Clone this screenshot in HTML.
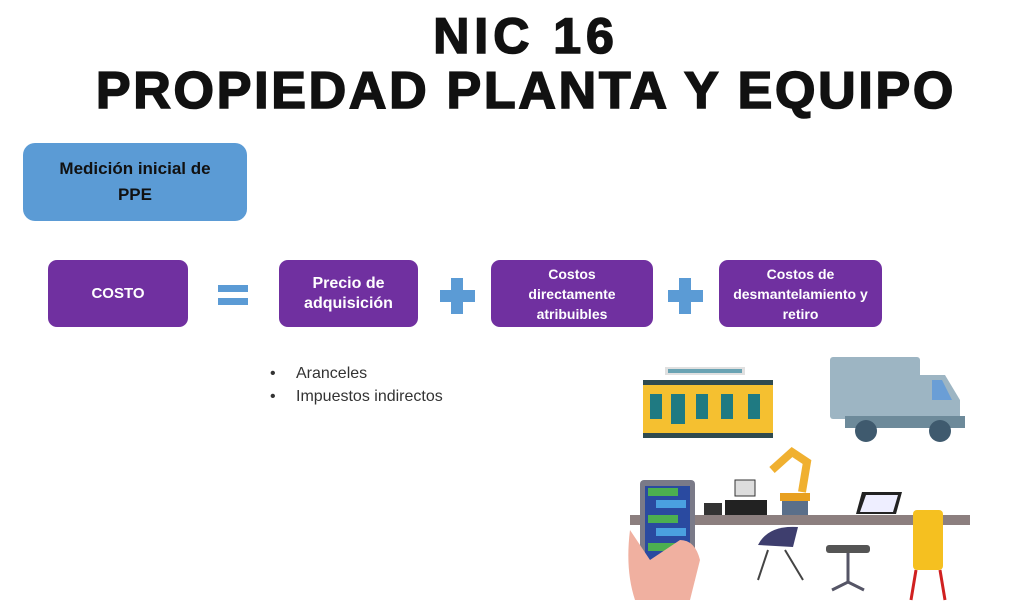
<!DOCTYPE html>
<html><head><meta charset="utf-8"><style>
body{margin:0;width:1024px;height:609px;background:#fff;position:relative;overflow:hidden;font-family:"Liberation Sans",sans-serif}
.t{position:absolute;left:0;width:1052px;text-align:center;font-weight:900;color:#111;-webkit-text-stroke:1.6px #111}
.b{position:absolute;display:flex;align-items:center;justify-content:center;text-align:center;color:#fff;font-weight:bold;border-radius:9px;background:#7030a0;font-size:15px;line-height:20px}
.li{position:absolute;left:270px;font-size:16px;color:#333}
.li span{position:absolute;left:26px;white-space:nowrap}
</style></head><body>
<div class="t" style="top:10px;font-size:50px;line-height:52px;letter-spacing:5px">NIC 16</div>
<div class="t" style="top:64px;font-size:52px;line-height:54px;letter-spacing:2.7px">PROPIEDAD PLANTA Y EQUIPO</div>
<div class="b" style="left:23px;top:143px;width:224px;height:78px;background:#5b9bd5;color:#111;font-size:17px;line-height:26px;border-radius:12px">Medición inicial de<br>PPE</div>
<div class="b" style="left:48px;top:260px;width:140px;height:67px">COSTO</div>
<div style="position:absolute;left:218px;top:285px;width:30px;height:7px;background:#5b9bd5"></div>
<div style="position:absolute;left:218px;top:298px;width:30px;height:7px;background:#5b9bd5"></div>
<div class="b" style="left:279px;top:260px;width:139px;height:67px;font-size:16px">Precio de<br>adquisición</div>
<div style="position:absolute;left:440px;top:290px;width:35px;height:12px;background:#5b9bd5"></div>
<div style="position:absolute;left:451px;top:278px;width:12px;height:36px;background:#5b9bd5"></div>
<div class="b" style="left:491px;top:260px;width:162px;height:67px;font-size:14px">Costos<br>directamente<br>atribuibles</div>
<div style="position:absolute;left:668px;top:290px;width:35px;height:12px;background:#5b9bd5"></div>
<div style="position:absolute;left:679px;top:278px;width:12px;height:36px;background:#5b9bd5"></div>
<div class="b" style="left:719px;top:260px;width:163px;height:67px;font-size:14px">Costos de<br>desmantelamiento y<br>retiro</div>
<div class="li" style="top:365px">•<span>Aranceles</span></div>
<div class="li" style="top:388px">•<span>Impuestos indirectos</span></div>
<svg style="position:absolute;left:0;top:0" width="1024" height="609">
<rect x="665" y="367" width="80" height="8" fill="#e0e0e0"/><rect x="668" y="369" width="74" height="4" fill="#6aa3b3"/>
<rect x="643" y="380" width="130" height="5" fill="#2f4a4f"/>
<rect x="643" y="385" width="130" height="48" fill="#f5c030"/>
<g fill="#1f7a82"><rect x="650" y="394" width="12" height="25"/><rect x="671" y="394" width="14" height="30"/><rect x="696" y="394" width="12" height="25"/><rect x="721" y="394" width="12" height="25"/><rect x="748" y="394" width="12" height="25"/></g>
<rect x="643" y="433" width="130" height="5" fill="#2f4a4f"/>
<rect x="830" y="357" width="90" height="62" rx="3" fill="#9db5c3"/>
<path d="M920 375h25l15 25v20h-40z" fill="#9db5c3"/><path d="M932 380h10l10 20h-20z" fill="#6a9ed6"/>
<rect x="845" y="416" width="120" height="12" fill="#6d8a9a"/>
<circle cx="866" cy="431" r="11" fill="#3f5a6e"/><circle cx="940" cy="431" r="11" fill="#3f5a6e"/>
<rect x="630" y="515" width="340" height="10" fill="#8c7f7f"/>
<path d="M772 470l20-18 15 10-5 30" stroke="#f0b030" stroke-width="8" fill="none"/>
<rect x="782" y="500" width="26" height="15" fill="#5a6f8a"/><rect x="780" y="493" width="30" height="8" fill="#e8a020"/>
<rect x="735" y="480" width="20" height="16" fill="#ddd" stroke="#333"/>
<rect x="725" y="500" width="42" height="15" fill="#222"/><rect x="704" y="503" width="18" height="12" fill="#333"/>
<path d="M862 492h40l-6 22h-40z" fill="#222"/><path d="M866 495h32l-5 17h-33z" fill="#eef"/>
<path d="M758 545q10-20 40-18l-5 20z" fill="#3e3e6e"/><path d="M768 550l-10 30M785 550l18 30" stroke="#444" stroke-width="2"/>
<rect x="826" y="545" width="44" height="8" rx="3" fill="#555"/><path d="M848 553v30M832 590l16-8 16 8" stroke="#556" stroke-width="3" fill="none"/>
<rect x="913" y="510" width="30" height="60" rx="4" fill="#f5c020"/><path d="M916 570l-5 30M940 570l5 30" stroke="#d02020" stroke-width="3"/>
<rect x="640" y="480" width="55" height="103" rx="4" fill="#7a7a88"/><rect x="645" y="486" width="45" height="90" fill="#2a4aa0"/>
<g fill="#4caf50"><rect x="648" y="488" width="30" height="8"/><rect x="648" y="515" width="30" height="8"/><rect x="648" y="543" width="30" height="8"/></g>
<g fill="#4aa0e0"><rect x="656" y="500" width="30" height="8"/><rect x="656" y="528" width="30" height="8"/></g>
<path d="M630 530q-5 40 5 70h55l10-40q-5-20-20-20l-30 20z" fill="#f0b0a0"/>
</svg>
</body></html>
